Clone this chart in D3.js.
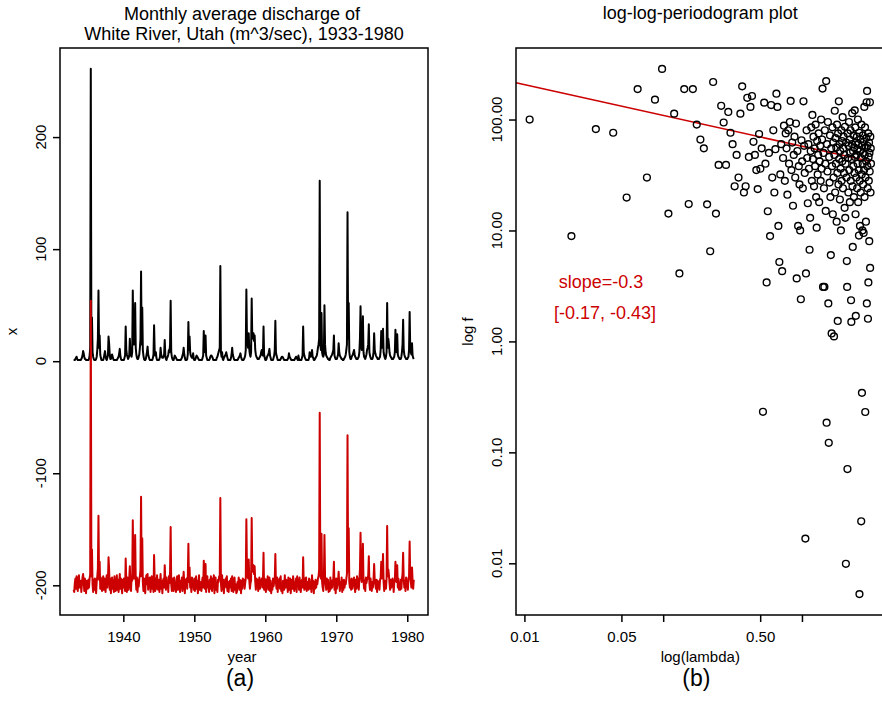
<!DOCTYPE html>
<html>
<head>
<meta charset="utf-8">
<script src="https://cdn.jsdelivr.net/npm/d3@7"></script>
<style>
  body { margin: 0; background: #fff; }
  svg { display: block; font-family: "Liberation Sans", Arial, Helvetica, sans-serif; }
</style>
</head>
<body>
<div id="chart"></div>
<script>
// monthly discharge, Jan 1933 .. Dec 1980 (one row per year)
const startYear = 1933;
const discharge = [
  1,1,1,2,3,4,2,1,1,1,1,1,
  1,2,3,5,9,7,4,2,2,1,1,1,
  1,1,2,5,12,261,15,39,8,4,2,1,
  1,1,2,4,10,20,63,12,23,6,3,1,
  1,1,1,3,6,9,5,2,1,3,5,22,
  16,6,2,2,4,6,4,2,1,1,1,1,
  1,1,2,3,4,7,11,5,2,1,1,1,
  1,1,3,5,31,10,6,4,2,3,5,20,
  8,5,4,8,63,25,15,20,52,12,6,3,
  2,2,4,6,12,20,80,15,48,10,5,2,
  1,1,2,5,8,13,6,4,2,1,1,1,
  1,1,3,6,32,10,5,8,3,1,1,1,
  1,2,4,12,6,4,3,3,4,6,19,5,
  2,1,3,4,6,10,8,15,54,8,4,2,
  1,1,3,5,4,3,2,1,1,1,1,1,
  1,1,2,3,5,7,12,6,3,1,1,1,
  2,6,35,10,22,8,5,4,3,3,7,2,
  1,1,2,4,5,4,3,2,1,1,1,1,
  1,1,3,5,27,10,8,23,5,3,1,1,
  1,1,2,4,5,5,4,3,1,1,1,1,
  1,1,3,4,6,8,10,12,85,8,4,8,
  2,1,3,4,5,6,8,5,3,1,1,1,
  1,1,3,6,12,6,4,2,1,1,1,1,
  1,1,2,3,4,5,7,4,2,1,1,1,
  2,3,5,10,64,20,15,12,25,10,6,4,
  8,56,20,22,25,18,23,10,6,4,3,2,
  2,2,3,4,5,8,10,6,5,31,6,3,
  1,1,2,4,5,6,8,11,5,3,1,1,
  1,1,3,5,10,36,8,5,3,1,1,1,
  1,1,2,3,4,4,3,2,1,1,1,1,
  1,1,2,3,7,4,3,2,1,1,1,1,
  1,1,2,3,4,3,2,1,5,2,1,1,
  1,1,3,5,31,8,5,3,2,1,1,1,
  1,1,3,8,5,4,5,10,4,3,1,1,
  2,3,4,5,8,12,15,20,161,15,10,43,
  8,5,4,6,50,15,8,5,4,3,2,2,
  1,1,3,4,5,6,8,10,23,5,3,2,
  2,2,4,6,16,8,5,4,3,2,2,1,
  1,2,3,4,6,10,15,133,20,52,8,4,
  2,2,4,5,6,8,10,6,4,3,2,2,
  2,3,4,8,20,49,15,10,12,40,8,4,
  3,2,4,6,10,12,15,33,8,5,3,2,
  2,2,4,8,25,10,7,5,4,3,2,2,
  2,3,4,10,27,12,15,29,8,5,3,2,
  4,8,52,12,20,15,8,5,4,3,2,2,
  2,3,4,8,28,10,8,24,6,4,3,2,
  2,2,4,8,15,37,10,6,4,3,2,2,
  2,3,4,10,44,12,8,6,16,5,3,2
];

// deseasonalised series, plotted shifted down by 200
const adjusted = [
  -4,-6,2,6,-3,8,0,-5,5,9,-2,3,
  4,-6,1,7,10,3,-5,6,2,-7,4,1,
  -3,5,-2,6,10,254,8,32,1,-6,5,-4,
  6,-2,-7,3,8,15,62,5,21,-3,7,0,
  -5,3,8,-4,6,2,-6,5,9,-2,4,25,
  14,-4,6,-7,2,7,-3,4,-6,8,1,-5,
  3,9,-4,5,-6,2,10,-3,6,0,-7,5,
  -2,6,1,-5,24,4,-6,7,2,-4,6,17,
  3,-5,8,4,58,18,6,12,45,5,-4,7,
  -6,4,-1,6,8,14,79,8,42,3,-5,6,
  2,-7,5,9,1,10,-4,6,-2,7,-6,3,
  8,-3,4,-6,27,5,-5,6,-3,9,0,-4,
  5,-6,2,10,-3,4,-7,3,6,-2,18,4,
  -4,7,-2,3,-6,8,2,12,52,1,-5,6,
  3,-5,7,-3,1,-6,5,8,-4,2,9,-2,
  -6,4,-2,7,-5,3,12,2,-7,5,1,6,
  -3,8,37,3,16,-2,5,-6,7,1,4,-4,
  6,-5,1,8,-3,4,-7,2,9,-4,3,-1,
  -5,3,7,-2,22,5,-3,19,-6,4,8,-2,
  2,-6,5,-3,8,1,-5,6,-2,9,-7,3,
  7,-4,2,-6,5,3,8,6,78,2,-5,9,
  -3,5,-7,4,1,6,-2,8,-5,3,-6,2,
  4,-2,6,-5,8,2,-6,3,7,-4,1,-7,
  -6,3,-2,7,-4,5,1,-7,4,-3,6,2,
  5,-3,2,6,59,14,8,6,23,4,-3,2,
  4,60,12,15,18,10,17,3,-4,6,-2,5,
  -5,2,7,-3,4,1,6,-2,3,29,-4,6,
  3,-6,5,-2,8,-4,2,7,-5,4,-7,1,
  -4,6,-1,3,5,28,2,-3,7,-6,4,-2,
  6,-3,8,-5,1,-7,4,2,-4,9,-2,5,
  -2,4,-6,7,3,-4,6,-7,1,5,-3,8,
  4,-5,2,-3,6,-6,8,1,5,-4,7,-2,
  -6,3,5,-2,25,1,-4,6,-3,7,-5,2,
  3,-4,6,5,-3,2,-6,9,-2,4,-7,3,
  -3,5,-2,4,1,6,8,14,154,9,6,46,
  3,-2,-5,4,45,8,2,-4,6,-3,5,-6,
  2,-5,7,-3,4,-2,3,6,21,-4,5,-7,
  6,-3,2,4,12,1,-5,3,-2,7,-6,4,
  -4,5,-2,3,1,6,10,134,12,51,3,-2,
  5,-4,6,-3,2,4,7,-2,-6,5,-3,8,
  -2,6,-4,5,14,47,8,3,6,37,4,-3,
  4,-5,7,2,5,6,9,26,2,-4,6,-2,
  -5,3,-2,6,19,4,1,-3,5,-6,4,2,
  3,-4,5,7,21,6,9,28,3,-5,4,-2,
  -3,6,53,8,14,9,2,-4,5,-2,3,6,
  4,-6,2,5,21,4,3,18,-2,6,-4,2,
  -4,5,-3,6,10,29,5,-2,4,-5,7,1,
  3,-4,6,8,39,7,3,-2,16,4,-3,5
];
const adjustedShift = -200;

// periodogram ordinates at the Fourier frequencies 2*pi*k/576, k = 1..288
const nObs = 576;
const pgram = [
  100, 8.9, 82, 76, 19.8, 188, 30, 151, 286, 14.2,
  113, 4.1, 188, 17.3, 188, 90, 66, 55, 17.2, 6.5,
  218, 14.2, 39, 133, 94, 39, 117, 76, 60, 25,
  48, 30, 113, 199, 22, 25, 157, 46, 130, 163,
  63, 48, 35, 23.6, 74, 36, 55, 0.232, 142, 40,
  3.4, 14.9, 50, 8.9, 135, 30, 80, 22, 54, 171,
  130, 11, 5.2, 32, 60, 4.3, 45, 88, 28, 75,
  55, 21, 80, 40, 95, 147, 35, 62, 16.7, 48,
  70, 30, 92, 3.7, 52, 11, 38, 26, 10, 2.4,
  65, 42, 24, 146, 58, 33, 0.0167, 4.1, 80, 45,
  17.6, 60, 36, 6.7, 13, 52, 85, 28, 110, 44,
  70, 25, 55, 38, 90, 20, 10.6, 64, 32, 48,
  75, 18, 42, 58, 28, 100, 36, 66, 190, 3.1,
  50, 24, 3.1, 80, 40, 15, 222, 0.185, 60, 34,
  95, 2.2, 0.122, 46, 27, 72, 20, 6, 55, 1.18,
  38, 85, 14, 62, 30, 1.11, 48, 120, 22, 68,
  40, 56, 12, 90, 33, 1.53, 75, 26, 146, 44,
  60, 19, 52, 36, 10, 80, 28, 64, 42, 105,
  24, 55, 70, 33, 48, 16, 86, 13, 40, 0.0099,
  62, 30, 5.3, 3.1, 0.0707, 75, 45, 22, 58, 95,
  35, 66, 18, 50, 80, 28, 2.35, 1.5, 44, 60,
  114, 25, 7.1, 52, 38, 72, 20, 56, 33, 121,
  46, 85, 14, 1.7, 62, 30, 48, 70, 24, 54,
  40, 100, 18, 60, 35, 9, 76, 0.00528, 28, 11,
  52, 66, 22, 45, 0.0239, 90, 32, 0.344, 58, 10,
  40, 72, 26, 50, 9.5, 63, 35, 130, 20, 48,
  85, 0.231, 30, 56, 12, 42, 68, 143, 2.2, 181,
  38, 58, 24, 1.6, 75, 3.4, 46, 28, 62, 8,
  50, 34, 143, 4.6, 70, 22, 55, 40
];

// fitted line log10(f) = a + b * log10(lambda)
const fitIntercept = 1.76;
const fitSlope = -0.277;

const yearTicks = [1940, 1950, 1960, 1970, 1980];
const valueTicks = [-200, -100, 0, 100, 200];
const lambdaTicks = [0.01, 0.05, 0.1, 0.5, 1, 5];
const lambdaLabels = ["0.01", "0.05", "", "0.50", "", ""];
const fTicks = [0.01, 0.1, 1, 10, 100];

const red = "#cc0000";
const tickFont = 15;

const svg = d3.select("#chart")
    .append("svg")
    .attr("width", 882)
    .attr("height", 703);

function drawSeries() {
    const left = 60, right = 428, top = 48, bottom = 615;
    const cx = (left + right) / 2;

    const x = d3.scaleLinear().domain([1931.08, 1982.92]).range([left, right]);
    const y = d3.scaleLinear().domain([-226.5, 279.5]).range([bottom, top]);

    const raw = discharge.map((v, i) => ({ t: startYear + i / 12, v: v }));
    const adj = adjusted.map((v, i) => ({ t: startYear + i / 12, v: v + adjustedShift }));

    const line = d3.line()
        .x(d => x(d.t))
        .y(d => y(d.v));

    const g = svg.append("g");

    g.append("path")
        .datum(raw)
        .attr("d", line)
        .attr("fill", "none")
        .attr("stroke", "#000")
        .attr("stroke-width", 2)
        .attr("stroke-linejoin", "round");

    g.append("path")
        .datum(adj)
        .attr("d", line)
        .attr("fill", "none")
        .attr("stroke", red)
        .attr("stroke-width", 2)
        .attr("stroke-linejoin", "round");

    // x axis
    const xa = g.append("g")
        .attr("transform", `translate(0,${bottom})`)
        .call(d3.axisBottom(x).tickValues(yearTicks).tickFormat(d3.format("d")).tickSize(7).tickPadding(9));
    styleAxis(xa);

    // y axis, labels turned like R's
    const ya = g.append("g")
        .attr("transform", `translate(${left},0)`)
        .call(d3.axisLeft(y).tickValues(valueTicks).tickSize(7).tickFormat(""));
    styleAxis(ya);
    g.selectAll(".ylab")
        .data(valueTicks)
        .enter().append("text")
        .attr("transform", d => `translate(${left - 14},${y(d)}) rotate(-90)`)
        .attr("text-anchor", "middle")
        .attr("font-size", tickFont)
        .text(d => d);

    g.append("rect")
        .attr("x", left).attr("y", top)
        .attr("width", right - left).attr("height", bottom - top)
        .attr("fill", "none").attr("stroke", "#000").attr("stroke-width", 1.5);

    g.append("text").attr("x", cx - 2).attr("y", 20).attr("text-anchor", "middle")
        .attr("font-size", 18).text("Monthly average discharge of");
    g.append("text").attr("x", cx).attr("y", 40).attr("text-anchor", "middle")
        .attr("font-size", 18).text("White River, Utah (m^3/sec), 1933-1980");
    g.append("text").attr("x", cx - 2).attr("y", 662).attr("text-anchor", "middle")
        .attr("font-size", tickFont).text("year");
    g.append("text").attr("transform", `translate(17,${(top + bottom) / 2}) rotate(-90)`)
        .attr("text-anchor", "middle").attr("font-size", tickFont).text("x");
    g.append("text").attr("x", cx - 4).attr("y", 686).attr("text-anchor", "middle")
        .attr("font-size", 23).text("(a)");
}

function drawPeriodogram() {
    const left = 516, right = 884.6, top = 48, bottom = 615;
    const cx = (left + right) / 2;

    const points = pgram.map((f, i) => ({ lambda: 2 * Math.PI * (i + 1) / nObs, f: f }));

    const x = d3.scaleLog().domain([0.008698, 3.94]).range([left, right]);
    const y = d3.scaleLog().domain([0.00342, 441.3]).range([bottom, top]);

    const g = svg.append("g");

    // regression line
    const lamMax = d3.max(points, d => d.lambda);
    const fit = [x.domain()[0], lamMax].map(l => ({ lambda: l, f: Math.pow(10, fitIntercept + fitSlope * Math.log10(l)) }));
    g.append("path")
        .datum(fit)
        .attr("d", d3.line().x(d => x(d.lambda)).y(d => y(d.f)))
        .attr("fill", "none")
        .attr("stroke", red)
        .attr("stroke-width", 1.6);

    g.selectAll(".dot")
        .data(points)
        .enter().append("circle")
        .attr("class", "dot")
        .attr("cx", d => x(d.lambda))
        .attr("cy", d => y(d.f))
        .attr("r", 3.4)
        .attr("fill", "none")
        .attr("stroke", "#000")
        .attr("stroke-width", 1.4);

    const xa = g.append("g")
        .attr("transform", `translate(0,${bottom})`)
        .call(d3.axisBottom(x).tickValues(lambdaTicks.filter(d => x(d) <= right))
            .tickFormat(d => lambdaLabels[lambdaTicks.indexOf(d)]).tickSize(7).tickPadding(9));
    styleAxis(xa);

    const ya = g.append("g")
        .attr("transform", `translate(${left},0)`)
        .call(d3.axisLeft(y).tickValues(fTicks).tickSize(7).tickFormat(""));
    styleAxis(ya);
    g.selectAll(".ylab")
        .data(fTicks)
        .enter().append("text")
        .attr("transform", d => `translate(${left - 14},${y(d)}) rotate(-90)`)
        .attr("text-anchor", "middle")
        .attr("font-size", tickFont)
        .text(d => d3.format(".2f")(d));

    g.append("rect")
        .attr("x", left).attr("y", top)
        .attr("width", right - left).attr("height", bottom - top)
        .attr("fill", "none").attr("stroke", "#000").attr("stroke-width", 1.5);

    g.append("text").attr("x", cx).attr("y", 19).attr("text-anchor", "middle")
        .attr("font-size", 18).text("log-log-periodogram plot");
    g.append("text").attr("x", cx).attr("y", 662).attr("text-anchor", "middle")
        .attr("font-size", tickFont).text("log(lambda)");
    g.append("text").attr("transform", `translate(473,${(top + bottom) / 2}) rotate(-90)`)
        .attr("text-anchor", "middle").attr("font-size", tickFont).text("log f");
    g.append("text").attr("x", cx - 4).attr("y", 686).attr("text-anchor", "middle")
        .attr("font-size", 23).text("(b)");

    // slope annotation
    g.append("text").attr("x", 601).attr("y", 288).attr("text-anchor", "middle")
        .attr("font-size", 18).attr("fill", red).text("slope=-0.3");
    g.append("text").attr("x", 605).attr("y", 319).attr("text-anchor", "middle")
        .attr("font-size", 18).attr("fill", red).text("[-0.17, -0.43]");
}

function styleAxis(a) {
    a.select(".domain").remove();
    a.selectAll(".tick line").attr("stroke", "#000").attr("stroke-width", 1.5);
    a.selectAll(".tick text").attr("font-size", tickFont).attr("fill", "#000")
        .attr("font-family", "'Liberation Sans', Arial, sans-serif");
}

drawSeries();
drawPeriodogram();
</script>
</body>
</html>
